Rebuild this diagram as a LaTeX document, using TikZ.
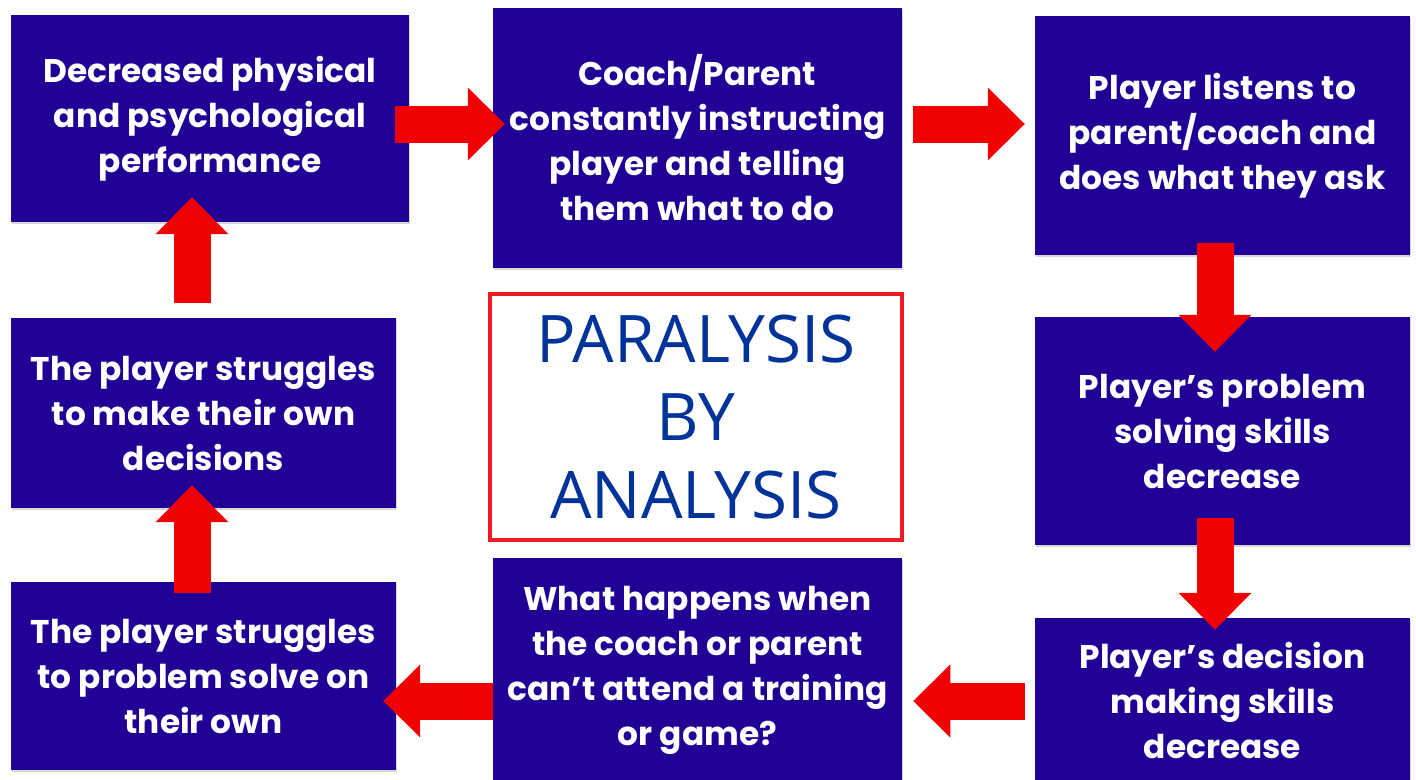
\documentclass[tikz,border=0pt]{standalone}
\usepackage{fontspec}
\setmainfont{Poppins}
\newfontfamily\titlefont{Open Sans}
\usetikzlibrary{arrows.meta,calc,shadows}
\definecolor{boxblue}{RGB}{33,0,150}
\definecolor{arrowred}{RGB}{240,0,0}
\definecolor{titleblue}{RGB}{0,51,153}
\definecolor{framered}{RGB}{237,28,36}
\tikzset{
  cbox/.style={fill=boxblue,text=white,align=center,inner sep=0pt,
    font=\fontsize{28}{38.4}\selectfont\bfseries,
    drop shadow={shadow xshift=1pt,shadow yshift=-2pt,opacity=0.3}},
  titlebox/.style={draw=framered,line width=0.12cm,fill=white,align=center,
    text=titleblue,font=\titlefont\fontsize{56}{66.6}\selectfont},
  redarrow/.style={draw=arrowred,line width=1.11cm,
    -{Triangle[length=1.11cm,width=2.19cm,line width=0pt]}}
}

\begin{document}
\begin{tikzpicture}[x=0.03cm,y=-0.03cm]
  \fill[white] (0,0) rectangle (1416,780);
  \useasboundingbox (0,0) rectangle (1416,780);

  % top row
  \node[cbox,minimum width=11.94cm,minimum height=6.21cm] (perf) at (210,118.5)
    {Decreased physical\\and psychological\\performance};
  \node[cbox,minimum width=12.27cm,minimum height=7.8cm] (instr) at (697.5,138)
    {Coach/Parent\\constantly instructing\\player and telling\\them what to do};
  \node[cbox,minimum width=11.25cm,minimum height=7.17cm] (listen) at (1222.5,135.5)
    {Player listens to\\parent/coach and\\does what they ask};

  % right column
  \node[cbox,minimum width=11.25cm,minimum height=6.84cm] (probskill) at (1222.5,431)
    {Player’s problem\\solving skills\\decrease};
  \node[cbox,minimum width=11.25cm,minimum height=4.92cm] (decskill) at (1222.5,700)
    {Player’s decision\\making skills\\decrease};

  % bottom row
  \node[cbox,minimum width=12.27cm,minimum height=6.72cm] (absent) at (697.5,670)
    {What happens when\\the coach or parent\\can’t attend a training\\or game?};
  \node[cbox,minimum width=11.55cm,minimum height=5.64cm] (probsolve) at (203.5,676)
    {The player struggles\\to problem solve on\\their own};
  \node[cbox,minimum width=11.55cm,minimum height=5.7cm] (decide) at (203.5,413)
    {The player struggles\\to make their own\\decisions};

  % centre title
  \node[titlebox,minimum width=12.36cm,minimum height=7.38cm] (title) at (696,417)
    {PARALYSIS\\BY\\ANALYSIS};

  % cycle arrows
  \draw[redarrow] ($(perf.east)+(-14,5.5)$) -- ($(perf.east -| instr.west)+(12,5.5)$);
  \draw[redarrow] ($(instr.east)+(11,-14)$) -- ($(instr.east -| listen.west)+(-10,-14)$);
  \draw[redarrow] ($(listen.south)+(-7.5,-12)$) -- ($(listen.south |- probskill.north)+(-7.5,35)$);
  \draw[redarrow] ($(probskill.south)+(-7.5,-27)$) -- ($(probskill.south |- decskill.north)+(-7.5,12)$);
  \draw[redarrow] ($(decskill.west)+(-10,1)$) -- ($(decskill.west -| absent.east)+(11,1)$);
  \draw[redarrow] ($(absent.west)+(0,31)$) -- ($(absent.west -| probsolve.east)+(-13,31)$);
  \draw[redarrow] ($(probsolve.north)+(-11.5,11)$) -- ($(probsolve.north |- decide.south)+(-11.5,-23)$);
  \draw[redarrow] ($(decide.north)+(-11.5,-15)$) -- ($(decide.north |- perf.south)+(-11.5,-25)$);
\end{tikzpicture}
\end{document}
